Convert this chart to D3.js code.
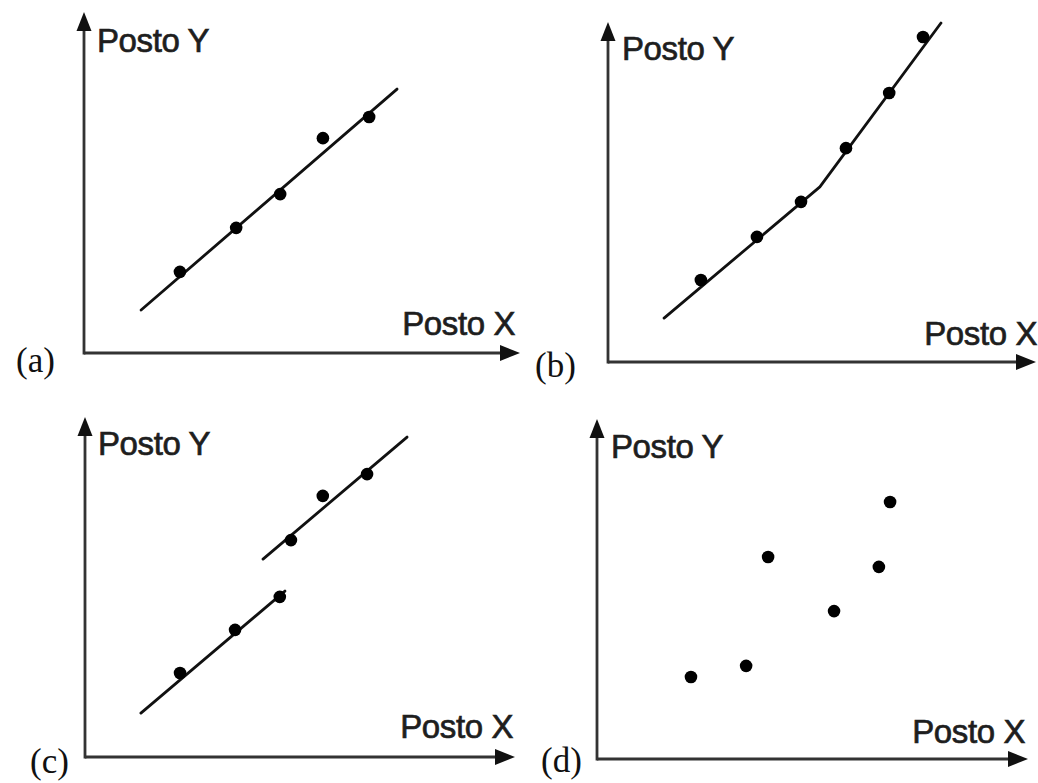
<!DOCTYPE html>
<html>
<head>
<meta charset="utf-8">
<script src="https://cdn.jsdelivr.net/npm/d3@7"></script>
<style>
  html, body { margin: 0; padding: 0; background: #fff; }
  svg { display: block; }
</style>
</head>
<body>
<svg id="chart" width="1038" height="783"></svg>
<script>
// ---------- DATA (rank units, 0..10 on each axis) ----------
const panelNames = ["(a)", "(b)", "(c)", "(d)"];
const xLabel = "Posto X";
const yLabel = "Posto Y";

// (a) linear relationship
const aPointsX = [2.20, 3.49, 4.50, 5.48, 6.54];
const aPointsY = [2.38, 3.67, 4.66, 6.30, 6.92];
const aLineX = [1.31, 7.18];
const aLineY = [1.26, 7.74];

// (b) monotonic, non-linear
const bPointsX = [2.17, 3.48, 4.51, 5.56, 6.57, 7.36];
const bPointsY = [2.41, 3.68, 4.71, 6.29, 7.91, 9.56];
const bLineX = [1.31, 4.95, 7.78];
const bLineY = [1.29, 5.15, 9.97];

// (c) two groups
const cPointsX = [2.21, 3.49, 4.53, 4.79, 5.53, 6.56];
const cPointsY = [2.47, 3.74, 4.71, 6.38, 7.68, 8.32];
const cLine1X = [1.30, 4.65];
const cLine1Y = [1.29, 4.88];
const cLine2X = [4.14, 7.49];
const cLine2Y = [5.82, 9.41];

// (d) scatter without line
const dPointsX = [2.18, 3.46, 3.97, 5.50, 6.54, 6.80];
const dPointsY = [2.41, 2.74, 5.94, 4.35, 5.65, 7.56];

// ---------- LAYOUT ----------
const frames = [
  { ox: 84,  oy: 353, tipX: 520,  tipY: 12,  yLab: [13, 40], xLab: [-5, -18], nameLab: [-68, 19] },
  { ox: 608, oy: 362, tipX: 1036, tipY: 22,  yLab: [14, 38], xLab: [1, -17],  nameLab: [-73, 15] },
  { ox: 85,  oy: 757, tipX: 515,  tipY: 417, yLab: [13, 38], xLab: [-2, -19], nameLab: [-55, 16] },
  { ox: 597, oy: 759, tipX: 1028, tipY: 419, yLab: [14, 39], xLab: [-3, -16], nameLab: [-56, 13] }
];

const zip = (xs, ys) => xs.map((x, i) => [x, ys[i]]);
const panelData = [
  { points: zip(aPointsX, aPointsY), lines: [zip(aLineX, aLineY)] },
  { points: zip(bPointsX, bPointsY), lines: [zip(bLineX, bLineY)] },
  { points: zip(cPointsX, cPointsY), lines: [zip(cLine1X, cLine1Y), zip(cLine2X, cLine2Y)] },
  { points: zip(dPointsX, dPointsY), lines: [] }
];

const svg = d3.select("#chart");
const axisColor = "#333";
const textColor = "#1e1e1e";

frames.forEach((f, i) => {
  const g = svg.append("g");
  const x = d3.scaleLinear().domain([0, 10]).range([f.ox, f.tipX]);
  const y = d3.scaleLinear().domain([0, 10]).range([f.oy, f.tipY]);

  // axes
  g.append("line")
    .attr("x1", x(0)).attr("y1", y(0))
    .attr("x2", x(10) - 14).attr("y2", y(0))
    .attr("stroke", axisColor).attr("stroke-width", 2.8);
  g.append("line")
    .attr("x1", x(0)).attr("y1", y(0) + 1.4)
    .attr("x2", x(0)).attr("y2", y(10) + 14)
    .attr("stroke", axisColor).attr("stroke-width", 2.8);

  // arrowheads
  g.append("path")
    .attr("d", `M${x(10)},${y(0)} L${x(10) - 20},${y(0) - 8} L${x(10) - 20},${y(0) + 8} Z`)
    .attr("fill", "#111");
  g.append("path")
    .attr("d", `M${x(0)},${y(10)} L${x(0) - 7.5},${y(10) + 19} L${x(0) + 7.5},${y(10) + 19} Z`)
    .attr("fill", "#111");

  // lines
  const lineGen = d3.line().x(d => x(d[0])).y(d => y(d[1]));
  g.selectAll("path.fit")
    .data(panelData[i].lines)
    .join("path")
    .attr("class", "fit")
    .attr("d", lineGen)
    .attr("fill", "none")
    .attr("stroke", "#111")
    .attr("stroke-width", 2.8)
    .attr("stroke-linecap", "round")
    .attr("stroke-linejoin", "round");

  // points
  g.selectAll("circle")
    .data(panelData[i].points)
    .join("circle")
    .attr("cx", d => x(d[0]))
    .attr("cy", d => y(d[1]))
    .attr("r", 6.3)
    .attr("fill", "#000");

  // labels
  const sans = "'Liberation Sans', Arial, sans-serif";
  g.append("text")
    .attr("x", f.ox + f.yLab[0])
    .attr("y", f.tipY + f.yLab[1])
    .attr("font-family", sans)
    .attr("font-size", 33)
    .attr("letter-spacing", -0.4)
    .attr("fill", textColor)
    .attr("stroke", textColor)
    .attr("stroke-width", 0.7)
    .text(yLabel);

  g.append("text")
    .attr("x", f.tipX + f.xLab[0])
    .attr("y", f.oy + f.xLab[1])
    .attr("text-anchor", "end")
    .attr("font-family", sans)
    .attr("font-size", 33)
    .attr("letter-spacing", -0.4)
    .attr("fill", textColor)
    .attr("stroke", textColor)
    .attr("stroke-width", 0.7)
    .text(xLabel);

  g.append("text")
    .attr("x", f.ox + f.nameLab[0])
    .attr("y", f.oy + f.nameLab[1])
    .attr("font-family", "'Liberation Serif', 'Times New Roman', serif")
    .attr("font-size", 35)
    .attr("fill", "#111")
    .text(panelNames[i]);
});
</script>
</body>
</html>
